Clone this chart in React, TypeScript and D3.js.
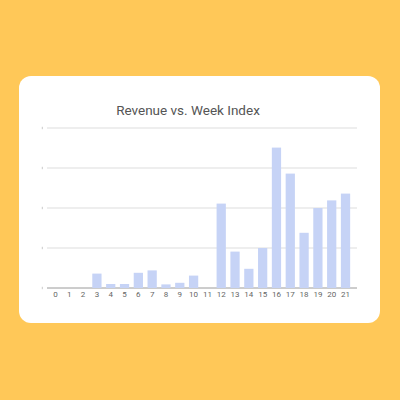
import React from "react";
import * as d3 from "d3";

// week index on the x axis
const weeks: string[] = ["0", "1", "2", "3", "4", "5", "6", "7", "8", "9", "10", "11", "12", "13", "14", "15", "16", "17", "18", "19", "20", "21"];
// revenue per week (relative units, one unit per gridline)
const revenue: number[] = [0, 0, 0, 0.36, 0.1, 0.1, 0.38, 0.44, 0.09, 0.13, 0.31, 0, 2.11, 0.91, 0.48, 1.0, 3.51, 2.86, 1.38, 2.0, 2.19, 2.36];
const yTicks: number[] = [0, 1, 2, 3, 4];

const App: React.FC = () => {
  const width = 400;
  const height = 400;
  const margin = { top: 128, right: 43, bottom: 112, left: 47 };

  const x = d3
    .scaleBand<string>()
    .domain(weeks)
    .range([48.5, 352.5])
    .paddingInner(0.33)
    .paddingOuter(0.17);

  const y = d3
    .scaleLinear()
    .domain([0, 4])
    .range([height - margin.bottom, margin.top]);

  return (
    <svg
      width={width}
      height={height}
      style={{ position: "absolute", left: 0, top: 0, display: "block" }}
    >
      <rect width={width} height={height} fill="#FFC858" />
      <rect x={19} y={76} width={361} height={247} rx={12} ry={12} fill="#ffffff" />

      <text
        x={188}
        y={115}
        textAnchor="middle"
        fill="#555555"
        style={{ fontFamily: "Roboto", fontSize: "13.5px" }}
      >
        Revenue vs. Week Index
      </text>

      {/* gridlines */}
      {yTicks.map((t) => (
        <g key={t}>
          <line
            x1={margin.left}
            x2={width - margin.right}
            y1={y(t)}
            y2={y(t)}
            stroke={t === 0 ? "#9a9a9a" : "#dddddd"}
            strokeWidth={1}
          />
          <line x1={42.3} x2={42.3} y1={y(t) - 1.2} y2={y(t) + 1.2} stroke="#bbbbbb" strokeWidth={0.8} />
        </g>
      ))}

      {/* bars */}
      {revenue.map((v, i) => (
        <rect
          key={weeks[i]}
          x={x(weeks[i])}
          y={y(v)}
          width={x.bandwidth()}
          height={y(0) - y(v)}
          fill="#C6D3F6"
        />
      ))}

      {/* x labels */}
      {weeks.map((w) => (
        <text
          key={w}
          x={(x(w) ?? 0) + x.bandwidth() / 2}
          y={296.5}
          textAnchor="middle"
          fill="#666666"
          style={{ fontFamily: "Roboto", fontSize: "8px" }}
        >
          {w}
        </text>
      ))}
    </svg>
  );
};

export default App;
